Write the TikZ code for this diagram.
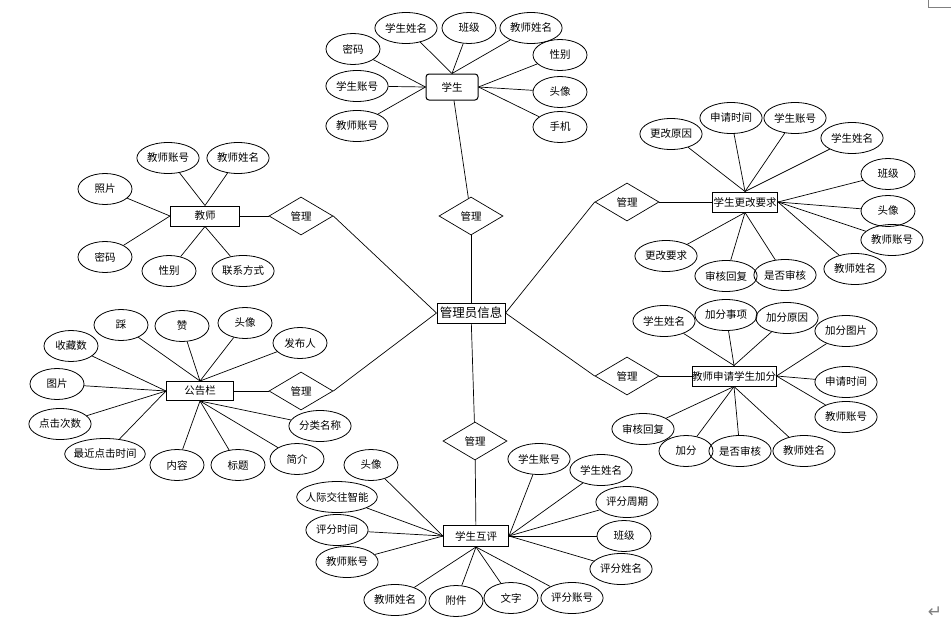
\documentclass[tikz,border=0pt]{standalone}
\usepackage{fontspec}
\setmainfont{Noto Sans CJK SC}
\newfontfamily\retfont{DejaVu Sans}
\usetikzlibrary{shapes.geometric, shadows}
\tikzstyle{attr} = [ellipse, 
			draw, 
			line width = 0.8pt, 
			minimum width = 54pt, 
			minimum height = 31pt, 
			inner xsep = 1pt, 
			inner ysep = 0pt]
\tikzstyle{longattr} = [attr, inner xsep = -3pt]
\tikzstyle{entity} = [rectangle, 
			draw, 
			line width = 1pt, 
			text centered, 
			minimum height = 20pt, 
			inner xsep = 1pt, 
			inner ysep = 0pt]
\tikzstyle{rel} = [diamond, 
			draw, 
			line width = 0.7pt, 
			minimum width = 64pt, 
			minimum height = 38pt, 
			inner sep = 0pt]
\tikzstyle{line} = [draw, line width = 0.7pt]

\begin{document}
\begin{tikzpicture}[x=1pt, y=-1pt, font=\fontsize{10.5}{12}\selectfont]
	\useasboundingbox (0,0) rectangle (951,627);
	\node [entity, minimum width = 68pt, inner xsep = 2.5pt, font=\fontsize{12.5}{14}\selectfont, drop shadow={shadow xshift=1pt, shadow yshift=-1pt, fill=gray!50}, fill=white] (admin) at (471,313) {管理员信息};
	% 学生
	\node [entity, rounded corners = 3pt, minimum width = 52pt, minimum height = 26pt] (student) at (452,87) {学生};
	\node [rel] (m-student) at (471,216) {管理};
	\node [attr] (student-sname) at (406,28) {学生姓名};
	\node [attr] (student-class) at (469,28) {班级};
	\node [attr] (student-tname) at (531,28) {教师姓名};
	\node [attr] (student-pwd) at (353,49) {密码};
	\node [attr] (student-sid) at (357,86) {学生账号};
	\node [attr] (student-tid) at (357,126) {教师账号};
	\node [attr] (student-sex) at (560,55) {性别};
	\node [attr] (student-avatar) at (560,92) {头像};
	\node [attr] (student-phone) at (560,127) {手机};
	\path [line] (student-sname) -- (student.north);
	\path [line] (student-class) -- (student.north);
	\path [line] (student-tname) -- (student.north);
	\path [line] (student-pwd) -- (student.west);
	\path [line] (student-sid) -- (student.west);
	\path [line] (student-tid) -- (student.west);
	\path [line] (student-sex) -- (student.east);
	\path [line] (student-avatar) -- (student.east);
	\path [line] (student-phone) -- (student.east);
	\path [line] (student) -- (m-student);
	\path [line] (m-student) -- (admin);
	% 教师
	\node [entity, minimum width = 69pt] (teacher) at (205,216) {教师};
	\node [rel] (m-teacher) at (301,216) {管理};
	\node [attr] (teacher-tid) at (168,158) {教师账号};
	\node [attr] (teacher-tname) at (238,158) {教师姓名};
	\node [attr] (teacher-photo) at (105,189) {照片};
	\node [attr] (teacher-pwd) at (105,257) {密码};
	\node [attr] (teacher-sex) at (169,271) {性别};
	\node [attr] (teacher-contact) at (243,271) {联系方式};
	\path [line] (teacher-tid) -- (teacher.north);
	\path [line] (teacher-tname) -- (teacher.north);
	\path [line] (teacher-photo) -- (teacher.west);
	\path [line] (teacher-pwd) -- (teacher.west);
	\path [line] (teacher-sex) -- (teacher.south);
	\path [line] (teacher-contact) -- (teacher.south);
	\path [line, line width = 1pt] (teacher) -- (m-teacher);
	\path [line] (m-teacher.east) -- (admin.west);
	% 学生更改要求
	\node [entity, minimum width = 65pt] (change) at (745,202) {学生更改要求};
	\node [rel] (m-change) at (627,202) {管理};
	\node [attr] (change-reason) at (671,134) {更改原因};
	\node [attr] (change-time) at (731,118) {申请时间};
	\node [attr] (change-sid) at (795,118) {学生账号};
	\node [attr] (change-sname) at (852,138) {学生姓名};
	\node [attr] (change-class) at (888,174) {班级};
	\node [attr] (change-avatar) at (888,211) {头像};
	\node [attr] (change-tid) at (892,240) {教师账号};
	\node [attr] (change-tname) at (855,269) {教师姓名};
	\node [attr] (change-check) at (785,275) {是否审核};
	\node [attr] (change-reply) at (726,276) {审核回复};
	\node [attr] (change-req) at (666,256) {更改要求};
	\path [line] (change-reason) -- (change.north);
	\path [line] (change-time) -- (change.north);
	\path [line] (change-sid) -- (change.north);
	\path [line] (change-sname) -- (change.north);
	\path [line] (change-class) -- (change.east);
	\path [line] (change-avatar) -- (change.east);
	\path [line] (change-tid) -- (change.east);
	\path [line] (change-tname) -- (change.east);
	\path [line] (change-check) -- (change.south);
	\path [line] (change-reply) -- (change.south);
	\path [line] (change-req) -- (change.south);
	\path [line] (change) -- (m-change);
	\path [line] (m-change.west) -- (admin.east);
	% 教师申请学生加分
	\node [entity, minimum width = 83pt, inner xsep = 0pt] (bonus) at (734,376) {教师申请学生加分};
	\node [rel] (m-bonus) at (627,376) {管理};
	\node [attr] (bonus-sname) at (664,321) {学生姓名};
	\node [attr] (bonus-item) at (726,315) {加分事项};
	\node [attr] (bonus-reason) at (787,318) {加分原因};
	\node [attr] (bonus-pic) at (846,331) {加分图片};
	\node [attr] (bonus-time) at (846,382) {申请时间};
	\node [attr] (bonus-tid) at (846,417) {教师账号};
	\node [attr] (bonus-tname) at (804,451) {教师姓名};
	\node [attr] (bonus-check) at (740,451) {是否审核};
	\node [attr] (bonus-score) at (686,451) {加分};
	\node [attr] (bonus-reply) at (643,429) {审核回复};
	\path [line] (bonus-sname) -- (bonus.north);
	\path [line] (bonus-item) -- (bonus.north);
	\path [line] (bonus-reason) -- (bonus.north);
	\path [line] (bonus-pic) -- (bonus.east);
	\path [line] (bonus-time) -- (bonus.east);
	\path [line] (bonus-tid) -- (bonus.east);
	\path [line] (bonus-tname) -- (bonus.south);
	\path [line] (bonus-check) -- (bonus.south);
	\path [line] (bonus-score) -- (bonus.south);
	\path [line] (bonus-reply) -- (bonus.south);
	\path [line] (bonus) -- (m-bonus);
	\path [line] (m-bonus.west) -- (admin.east);
	% 公告栏
	\node [entity, minimum width = 67pt, minimum height = 19pt] (notice) at (200,391) {公告栏};
	\node [rel] (m-notice) at (301,391) {管理};
	\node [attr] (notice-down) at (121,325) {踩};
	\node [attr] (notice-up) at (182,326) {赞};
	\node [attr] (notice-avatar) at (245,323) {头像};
	\node [attr] (notice-author) at (300,343) {发布人};
	\node [attr] (notice-fav) at (71,346) {收藏数};
	\node [attr] (notice-pic) at (57,384) {图片};
	\node [attr] (notice-clicks) at (60,424) {点击次数};
	\node [longattr] (notice-last) at (105,454) {最近点击时间};
	\node [attr] (notice-content) at (177,465) {内容};
	\node [attr] (notice-title) at (238,465) {标题};
	\node [attr] (notice-intro) at (297,459) {简介};
	\node [attr] (notice-type) at (320,426) {分类名称};
	\path [line] (notice-down) -- (notice.north);
	\path [line] (notice-up) -- (notice.north);
	\path [line] (notice-avatar) -- (notice.north);
	\path [line] (notice-author) -- (notice.north);
	\path [line] (notice-fav) -- (notice.west);
	\path [line] (notice-pic) -- (notice.west);
	\path [line] (notice-clicks) -- (notice.west);
	\path [line] (notice-last) -- (notice.west);
	\path [line] (notice-content) -- (notice.south);
	\path [line] (notice-title) -- (notice.south);
	\path [line] (notice-intro) -- (notice.south);
	\path [line] (notice-type) -- (notice.south);
	\path [line] (notice) -- (m-notice);
	\path [line] (m-notice.east) -- (admin.west);
	% 学生互评
	\node [entity, minimum width = 65pt, minimum height = 21pt] (review) at (476,536) {学生互评};
	\node [rel] (m-review) at (475,441) {管理};
	\node [attr] (review-avatar) at (371,465) {头像};
	\node [longattr] (review-social) at (337,497) {人际交往智能};
	\node [attr] (review-time) at (337,530) {评分时间};
	\node [attr] (review-tid) at (347,562) {教师账号};
	\node [attr] (review-tname) at (395,600) {教师姓名};
	\node [attr] (review-file) at (456,601) {附件};
	\node [attr] (review-text) at (511,598) {文字};
	\node [attr] (review-rid) at (572,598) {评分账号};
	\node [attr] (review-sid) at (539,459) {学生账号};
	\node [attr] (review-sname) at (601,470) {学生姓名};
	\node [attr] (review-period) at (627,502) {评分周期};
	\node [attr] (review-class) at (624,536) {班级};
	\node [attr] (review-rname) at (621,569) {评分姓名};
	\path [line] (review-avatar) -- (review.west);
	\path [line] (review-social) -- (review.west);
	\path [line] (review-time) -- (review.west);
	\path [line] (review-tid) -- (review.west);
	\path [line] (review-tname) -- (review.south);
	\path [line] (review-file) -- (review.south);
	\path [line] (review-text) -- (review.south);
	\path [line] (review-rid) -- (review.south);
	\path [line] (review-sid) -- (review.east);
	\path [line] (review-sname) -- (review.east);
	\path [line] (review-period) -- (review.east);
	\path [line] (review-class) -- (review.east);
	\path [line] (review-rname) -- (review.east);
	\path [line] (admin) -- (m-review);
	\path [line] (m-review) -- (review);
	% page marks
	\draw [gray, line width = 0.8pt] (928,0) -- (928,7) -- (951,7);
	\node [text = gray, font = \retfont\fontsize{17}{17}\selectfont] (ret) at (935,612) {↵};
\end{tikzpicture}
\end{document}
